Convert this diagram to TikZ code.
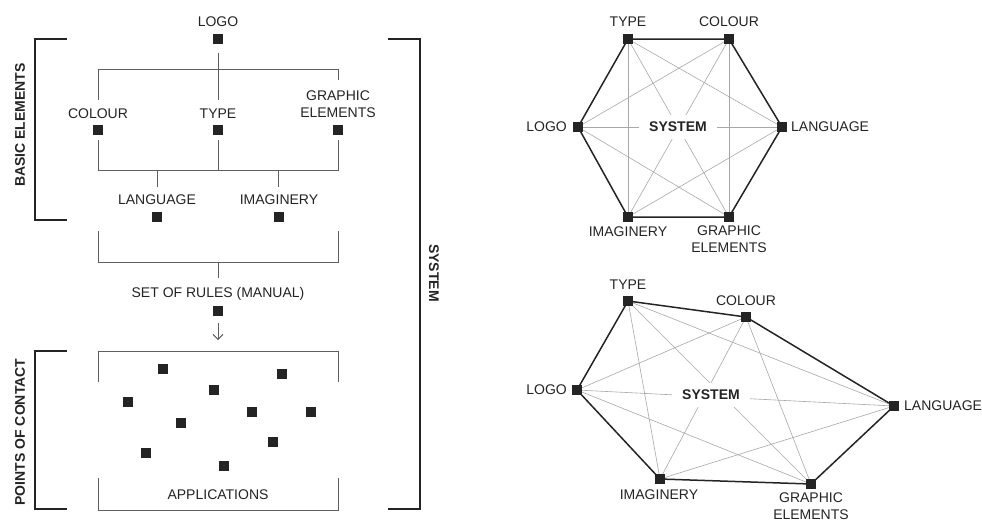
\documentclass[tikz,border=0pt]{standalone}
\usepackage{fontspec}
\setmainfont{Liberation Sans}
\usetikzlibrary{arrows.meta}
\definecolor{ink}{HTML}{242424}
\definecolor{rulec}{HTML}{5E5E5E}
\definecolor{thinc}{HTML}{A8A8A8}
\tikzset{
  sq/.style={fill=ink, minimum size=10pt, inner sep=0pt, draw=none},
  lbl/.style={text=ink, font=\fontsize{14}{17}\selectfont, inner sep=0pt, align=center},
  bld/.style={text=ink, font=\fontsize{14}{17}\selectfont\bfseries, inner sep=0pt, align=center},
  tree/.style={draw=rulec, line width=1pt},
  brk/.style={draw=ink, line width=1.2pt},
  outer/.style={draw=ink, line width=1.5pt},
  innerl/.style={draw=thinc, line width=0.6pt},
  syslbl/.style={bld, fill=white, inner xsep=10pt, inner ysep=7pt},
}
\begin{document}
\begin{tikzpicture}[x=1pt,y=-1pt]
\useasboundingbox[fill=white] (0,0) rectangle (982,523);

% ---------- left tree ----------
\node[lbl] (tLogo) at (218,22) {LOGO};
\node[sq] (sLogo) at (218,39) {};
\coordinate (c1) at (218,53);
\coordinate (c2) at (218,100);
\draw[tree] (c1) -- (c2);
\draw[tree] (98,100) -- (98,69) -- (338,69) -- (338,80);
\node[lbl] (tColour) at (98,114) {COLOUR};
\node[sq] (sColour) at (98,130) {};
\node[lbl] (tType) at (218,114) {TYPE};
\node[sq] (sType) at (218,130) {};
\node[lbl] (tGraphic) at (338,104) {GRAPHIC\\ELEMENTS};
\node[sq] (sGraphic) at (338,130) {};
\draw[tree] (98,140) -- (98,170) -- (338,170) -- (338,140);
\draw[tree] (218,140) -- (218,170);
\draw[tree] (157,170) -- (157,187);
\draw[tree] (278,170) -- (278,187);
\node[lbl] (tLang) at (157,200) {LANGUAGE};
\node[sq] (sLang) at (157,217) {};
\node[lbl] (tImag) at (279,200) {IMAGINERY};
\node[sq] (sImag) at (279,217) {};
\draw[tree] (98,231) -- (98,262) -- (338,262) -- (338,231);
\draw[tree] (218,262) -- (218,278);
\node[lbl] (tRules) at (218,294) {SET OF RULES (MANUAL)};
\node[sq] (sRules) at (218,311) {};
\coordinate (a1) at (218,323);
\coordinate (a2) at (218,340);
\draw[tree, line width=0.9pt, -{Straight Barb[length=5pt,width=10pt]}] (a1) -- (a2);
\draw[tree] (98,382) -- (98,351) -- (338,351) -- (338,382);
\draw[tree] (98,478) -- (98,510) -- (338,510) -- (338,478);
\node[lbl] (tApp) at (218,495) {APPLICATIONS};
\foreach \x/\y [count=\i] in {163/369, 282/374, 214/390, 128/402, 252/412, 311/412, 181/423, 273/442, 146/453, 224/466}
  \node[sq] (p\i) at (\x,\y) {};

% brackets
\draw[brk] (67,39) -- (35,39) -- (35,220) -- (67,220);
\draw[brk] (67,351) -- (35,351) -- (35,509) -- (67,509);
\draw[brk] (388,39) -- (420,39) -- (420,509) -- (388,509);
\node[bld, rotate=90] (tBasic) at (20,125) {BASIC ELEMENTS};
\node[bld, rotate=90] (tPoints) at (20,432) {POINTS OF CONTACT};
\node[bld, rotate=-90] (tSystem) at (434,273) {SYSTEM};

% ---------- top hexagon ----------
\coordinate (hT) at (628,39);
\coordinate (hC) at (729,39);
\coordinate (hLa) at (782,127);
\coordinate (hG) at (729,217);
\coordinate (hI) at (628,217);
\coordinate (hLo) at (578,127);
\foreach \a/\b in {hT/hLa, hT/hG, hT/hI, hC/hLo, hC/hI, hC/hG, hLo/hLa, hLo/hG, hI/hLa}
  \draw[innerl] (\a) -- (\b);
\draw[outer] (hT) -- (hC) -- (hLa) -- (hG) -- (hI) -- (hLo) -- cycle;
\node[syslbl] (hSys) at (678,127) {SYSTEM};
\foreach \n in {hT, hC, hLa, hG, hI, hLo}
  \node[sq] (s\n) at (\n) {};
\node[lbl] (lhT) at (628,22) {TYPE};
\node[lbl] (lhC) at (729,22) {COLOUR};
\node[lbl, anchor=east] (lhLo) at (567,127) {LOGO};
\node[lbl, anchor=west] (lhLa) at (791,127) {LANGUAGE};
\node[lbl] (lhI) at (628,232) {IMAGINERY};
\node[lbl, anchor=north] (lhG) at (729,226) {GRAPHIC\\ELEMENTS};

% ---------- bottom polygon ----------
\coordinate (bT) at (628,301);
\coordinate (bC) at (746,317);
\coordinate (bLa) at (894,406);
\coordinate (bG) at (811,484);
\coordinate (bI) at (660,479);
\coordinate (bLo) at (577,390);
\foreach \a/\b in {bT/bLa, bT/bG, bT/bI, bC/bLo, bC/bI, bC/bG, bLo/bLa, bLo/bG, bI/bLa}
  \draw[innerl] (\a) -- (\b);
\draw[outer] (bT) -- (bC) -- (bLa) -- (bG) -- (bI) -- (bLo) -- cycle;
\node[syslbl] (bSys) at (711,395) {SYSTEM};
\foreach \n in {bT, bC, bLa, bG, bI, bLo}
  \node[sq] (s\n) at (\n) {};
\node[lbl] (lbT) at (628,285) {TYPE};
\node[lbl] (lbC) at (746,301) {COLOUR};
\node[lbl, anchor=east] (lbLo) at (567,390) {LOGO};
\node[lbl, anchor=west] (lbLa) at (904,406) {LANGUAGE};
\node[lbl] (lbI) at (659,495) {IMAGINERY};
\node[lbl, anchor=north] (lbG) at (811,493) {GRAPHIC\\ELEMENTS};
\end{tikzpicture}
\end{document}
